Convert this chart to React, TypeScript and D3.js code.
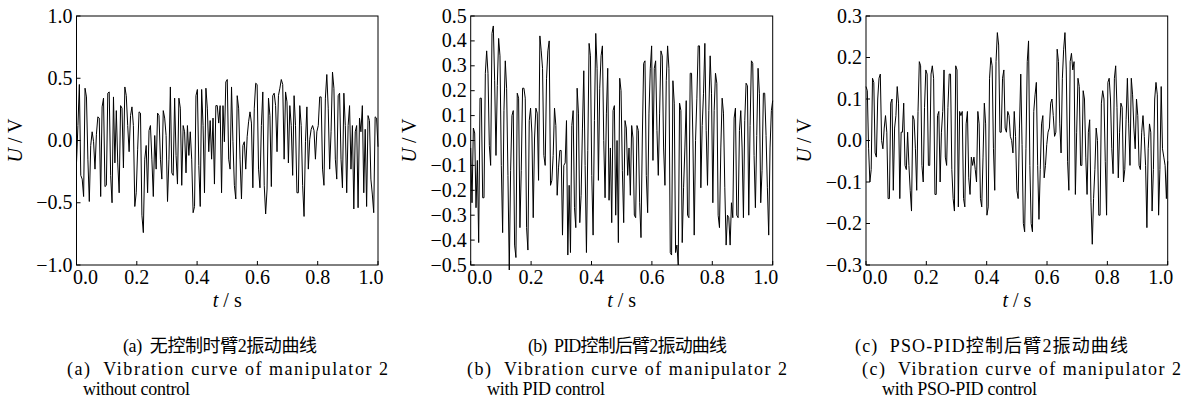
import React from 'react';
import * as d3 from 'd3';

// ---------------- data ----------------
const xTicks = [0, 0.2, 0.4, 0.6, 0.8, 1.0];
const aTicks = [-1.0, -0.5, 0.0, 0.5, 1.0];
const bTicks = [-0.5, -0.4, -0.3, -0.2, -0.1, 0.0, 0.1, 0.2, 0.3, 0.4, 0.5];
const cTicks = [-0.3, -0.2, -0.1, 0.0, 0.1, 0.2, 0.3];

// (a) without control
const aValues = [
  -0.18, 0.12, 0.45, -0.28, -0.31, -0.45, 0.42, 0.35, -0.15, -0.49,
  -0.04, 0.07, -0.01, -0.23, 0.05, 0.19, 0.18, -0.45, 0.27, 0.34,
  -0.37, -0.36, 0.38, 0.39, -0.28, -0.5, 0.35, -0.18, 0.24, -0.18,
  -0.42, 0.28, 0.26, -0.22, 0.43, 0.36, 0.12, -0.09, 0.2, 0.27,
  0.12, -0.53, -0.42, -0.07, 0.23, 0.22, -0.6, -0.74, -0.15, -0.04,
  -0.42, 0.08, 0.12, -0.15, -0.45, 0.04, -0.23, 0.22, 0.2, -0.15,
  -0.31, 0.24, 0.18, 0.04, -0.49, -0.15, 0.43, -0.26, -0.28, 0.34,
  -0.12, -0.35, 0.34, 0.26, -0.36, 0.12, 0.07, -0.26, 0.12, -0.12,
  0.07, -0.15, -0.58, -0.53, 0.36, 0.41, -0.2, -0.53, 0.41, 0.12,
  -0.42, 0.42, 0.26, -0.09, 0.16, -0.15, 0.18, -0.35, 0.28, 0.28, 0.14,
  0.28, -0.42, 0.28, -0.01, 0.47, 0.49, -0.15, -0.23, 0.43, -0.01,
  -0.36, -0.47, 0.36, 0.26, -0.15, -0.47, -0.04, -0.01, -0.23, 0.03,
  0.15, 0.23, 0.14, -0.38, 0.26, 0.46, 0.45, -0.23, -0.38, 0.12,
  0.39, -0.36, -0.59, -0.39, 0.34, 0.2, -0.37, 0.36, 0.38, 0.28,
  -0.09, 0.36, 0.42, 0.49, 0.45, -0.15, 0.39, 0.31, -0.18, 0.28,
  0.12, -0.28, 0.36, 0.12, -0.42, -0.42, 0.28, 0.12, -0.36, -0.61,
  -0.01, 0.27, -0.23, 0.01, 0.09, 0.12, 0.08, -0.15, 0.07, 0.12,
  0.35, 0.35, -0.23, -0.36, 0.34, 0.53, 0.26, -0.23, 0.07, 0.55,
  0.42, -0.15, -0.31, 0.36, 0.38, -0.15, -0.38, 0.38, 0.12, -0.42,
  0.12, 0.28, -0.23, 0.12, -0.55, 0.07, 0.12, -0.54, 0.18, 0.07,
  0.28, -0.42, 0.09, -0.53, 0.2, 0.16, -0.31, -0.43, -0.58, 0.19,
  0.18, -0.05,
];

// (b) with PID control
const bValues = [
  -0.03, -0.25, 0.05, 0.03, -0.27, -0.08, -0.41, 0.17, 0.17, -0.23,
  -0.23, 0.27, 0.36, 0.27, -0.02, -0.1, 0.43, 0.46, 0.24, -0.06,
  0.22, 0.41, 0.34, -0.1, -0.37, 0.12, 0.32, 0.21, -0.14, -0.52,
  -0.12, 0.1, 0.12, -0.42, -0.47, 0.19, 0.17, -0.35, -0.12, 0.21,
  0.21, 0.17, -0.35, -0.44, 0.08, 0.13, 0.03, -0.31, 0.01, 0.13,
  0.11, -0.16, 0.42, 0.36, 0.29, -0.06, -0.1, 0.25, 0.36, 0.4,
  -0.18, -0.16, -0.06, 0.13, 0.06, -0.22, -0.11, -0.04, -0.04, -0.38,
  -0.1, -0.09, 0.08, -0.46, -0.18, -0.45, 0.06, 0.12, -0.27, -0.35,
  0.21, 0.11, -0.33, -0.22, 0.05, 0.28, -0.1, -0.45, -0.04, 0.39,
  0.34, -0.14, -0.38, 0.08, 0.43, 0.29, -0.16, 0.21, 0.34, 0.38,
  0.0, -0.23, 0.11, 0.29, -0.24, -0.03, -0.33, 0.12, 0.14, -0.3,
  0.0, -0.41, 0.25, 0.2,
  -0.12, -0.33, 0.08, 0.05, -0.14, -0.03, -0.22, 0.06, 0.01, -0.3,
  -0.31, 0.06, 0.04, -0.25, -0.39, 0.01, 0.31, 0.32, -0.14, -0.29,
  0.11, 0.29, 0.38, -0.08, 0.29, 0.32, 0.04, -0.14, 0.11, 0.36,
  0.34, -0.03, -0.18, 0.24, 0.38, 0.29, -0.45, -0.46, 0.24, 0.15,
  -0.45, -0.42, -0.5, 0.15, 0.12, -0.41, -0.19, -0.03, 0.16, -0.3,
  -0.31, 0.27, 0.27, 0.01, -0.38, 0.0, 0.17, 0.38, 0.38, -0.19,
  0.06, 0.19, 0.39, 0.04, -0.18, 0.12, 0.34, 0.19, -0.25, 0.12,
  0.27, 0.23, -0.3, -0.35, -0.03, 0.17, 0.11, -0.19, -0.42, -0.3,
  -0.31, -0.42, -0.25, -0.31, 0.09, 0.13, -0.3, -0.31, 0.04, 0.12,
  -0.03, -0.31, 0.08, 0.23, 0.22, -0.3, 0.06, 0.32, 0.31, -0.06,
  -0.27, 0.02, 0.29, 0.19, -0.25, -0.12, 0.19, 0.19, 0.02, -0.19,
  -0.38, -0.03, 0.12, 0.16,
];

// (c) with PSO-PID control
const cValues = [
  0.13, 0.12, -0.02, -0.1, -0.07, 0.15, 0.14, -0.03, -0.04, 0.1,
  0.15, 0.16, 0.0, -0.02, 0.03, 0.06, 0.02, -0.14, -0.14, 0.09,
  0.1, -0.12, 0.03, 0.06, 0.13, 0.09, -0.14, 0.02, 0.02, 0.09,
  -0.06, -0.07, 0.02, -0.06, -0.12, -0.17, 0.06, 0.05, -0.02, -0.12,
  0.07, 0.19, 0.18, -0.06, -0.1, 0.08, 0.17, 0.16, -0.06, -0.06,
  0.16, 0.18, 0.15, -0.13, -0.13, 0.06, 0.07, -0.1, 0.02, 0.07,
  0.17, -0.04, -0.06, 0.08, 0.16, 0.16, -0.07, -0.14, -0.17, 0.18,
  0.17, -0.16, 0.07, 0.06, 0.07, -0.14, -0.16, 0.04, 0.07, -0.09,
  -0.13, -0.04, -0.06, -0.04, -0.07, -0.1, 0.07, 0.04, -0.14, -0.16,
  -0.04, 0.09, 0.04, -0.18, -0.16, 0.15, 0.2, 0.18, -0.02, -0.12,
  0.19, 0.26, 0.23, 0.02, 0.02, 0.15, 0.17, 0.03, 0.02, 0.07,
  0.06, 0.01, 0.0,
  -0.03, 0.07, 0.01, -0.12, -0.14, 0.03, 0.16, -0.01, -0.2, -0.22,
  -0.02, 0.19, 0.24, -0.06, -0.2, -0.22, 0.07, 0.11, 0.14, -0.06,
  -0.19, -0.07, 0.04, 0.06, -0.09, -0.06, -0.01, 0.02, 0.03, 0.09,
  0.1, 0.06, 0.01, 0.02, 0.22, 0.19, 0.04, -0.03, 0.15, 0.22,
  0.26, 0.17, -0.05, -0.12, 0.19, 0.21, 0.17, 0.19, -0.13, 0.02,
  0.15, 0.13, -0.06, -0.06, 0.12, 0.1, -0.04, -0.13, 0.02, 0.05,
  -0.15, -0.25, -0.14, -0.07, 0.03, 0.0, -0.18, -0.18, 0.09, 0.12,
  0.1, -0.05, -0.18, 0.14, 0.15, 0.1, -0.02, -0.08, 0.15, 0.18,
  0.08, -0.09, 0.02, 0.09, 0.08, -0.1, -0.07, 0.05, 0.15, 0.04,
  -0.06, 0.15, 0.11, 0.03, -0.02, 0.1, 0.06, -0.06, -0.07, 0.02,
  0.06, 0.01, -0.06, -0.21, -0.02, 0.04, 0.02, -0.17, -0.07, 0.1,
  0.14, 0.11, -0.18, -0.07, 0.13, -0.02, -0.04, -0.06, -0.14, -0.05,
];

const cnCaptions = ['(a)  无控制时臂2振动曲线', '(b)  PID控制后臂2振动曲线', '(c)  PSO-PID控制后臂2振动曲线'];
const enCaptions1 = ['(a)  Vibration curve of manipulator 2', '(b)  Vibration curve of manipulator 2', '(c)  Vibration curve of manipulator 2'];
const enCaptions2 = ['without control', 'with PID control', 'with PSO-PID control'];

// ---------------- drawing ----------------
const FONT = "'Liberation Serif', 'Times New Roman', 'Noto Sans CJK SC', serif";
const fmt = (v: number) => (v < -1e-9 ? '\u2212' : '') + Math.abs(v).toFixed(1);

type PanelProps = {
  x0: number; x1: number; y0: number; y1: number;
  values: number[]; yTicks: number[];
  cn: string; en1: string; en2: string;
  cnBox: [number, number]; en1Box: [number, number]; en2Box: [number, number];
};

const pre: React.CSSProperties = { whiteSpace: 'pre' };

function Panel(p: PanelProps) {
  const xs = d3.scaleLinear().domain([0, 1]).range([p.x0, p.x1]);
  const ys = d3.scaleLinear().domain([p.yTicks[0], p.yTicks[p.yTicks.length - 1]]).range([p.y1, p.y0]);
  const n = p.values.length;
  const line = d3.line<number>().x((_, i) => xs(i / (n - 1))).y(d => ys(d));
  const cx = (p.x0 + p.x1) / 2;
  const cy = (p.y0 + p.y1) / 2;
  return (
    <g fontFamily={FONT} fill="#000">
      <path d={line(p.values) || ''} fill="none" stroke="#000" strokeWidth={1} strokeLinejoin="miter" />
      <rect x={p.x0} y={p.y0} width={p.x1 - p.x0} height={p.y1 - p.y0} fill="none" stroke="#000" strokeWidth={1} />
      {p.yTicks.map(v => (
        <g key={'y' + v}>
          <line x1={p.x0} x2={p.x0 + 4} y1={ys(v)} y2={ys(v)} stroke="#000" />
          <text x={p.x0 - 4} y={ys(v) + 6.5} textAnchor="end" fontSize={20}>{fmt(v)}</text>
        </g>
      ))}
      {xTicks.map(t => (
        <g key={'x' + t}>
          <line x1={xs(t)} x2={xs(t)} y1={p.y1} y2={p.y1 - 4} stroke="#000" />
          <text x={xs(t) + (t === 0 ? 9 : t === 1 ? -7 : 0)} y={p.y1 + 19} textAnchor="middle" fontSize={20}>{fmt(t)}</text>
        </g>
      ))}
      <text transform={`translate(${p.x0 - 55},${cy}) rotate(-90)`} textAnchor="middle" fontSize={20}>
        <tspan fontStyle="italic">U</tspan> / V
      </text>
      <text x={cx} y={p.y1 + 42} textAnchor="middle" fontSize={20}>
        <tspan fontStyle="italic">t</tspan> / s
      </text>
      <text x={p.cnBox[0]} y={352} fontSize={18} style={pre} textLength={p.cnBox[1] - p.cnBox[0]} lengthAdjust="spacing">{p.cn}</text>
      <text x={p.en1Box[0]} y={375} fontSize={18} style={pre} textLength={p.en1Box[1] - p.en1Box[0]} lengthAdjust="spacing">{p.en1}</text>
      <text x={p.en2Box[0]} y={395} fontSize={18} style={pre} textLength={p.en2Box[1] - p.en2Box[0]} lengthAdjust="spacing">{p.en2}</text>
    </g>
  );
}

export default function App() {
  return (
    <svg width={1183} height={398} style={{ position: 'absolute', left: 0, top: 0, background: '#fff' }}>
      <rect width={1183} height={398} fill="#fff" />
      <Panel x0={76.5} x1={378} y0={16} y1={265} values={aValues} yTicks={aTicks}
        cn={cnCaptions[0]} en1={enCaptions1[0]} en2={enCaptions2[0]}
        cnBox={[123, 317]} en1Box={[67, 388]} en2Box={[83, 190]} />
      <Panel x0={470.7} x1={772.7} y0={16} y1={265} values={bValues} yTicks={bTicks}
        cn={cnCaptions[1]} en1={enCaptions1[1]} en2={enCaptions2[1]}
        cnBox={[528, 727]} en1Box={[467, 787]} en2Box={[487, 605]} />
      <Panel x0={866} x1={1167.7} y0={16} y1={265} values={cValues} yTicks={cTicks}
        cn={cnCaptions[2]} en1={enCaptions1[2]} en2={enCaptions2[2]}
        cnBox={[855, 1128]} en1Box={[862, 1181]} en2Box={[882, 1037]} />
    </svg>
  );
}
